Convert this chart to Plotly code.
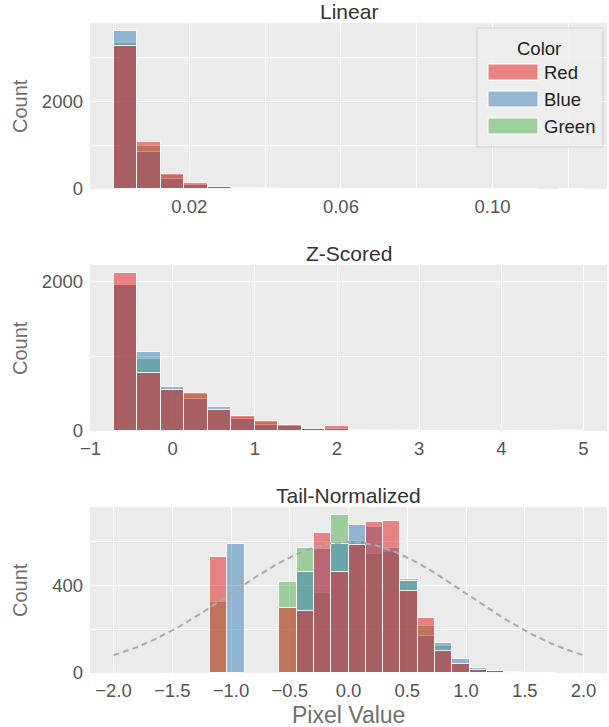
import numpy as np
import plotly.graph_objects as go

# ---------------- data ----------------
CHANNELS = ["Red", "Blue", "Green"]
CHANNEL_RGB = {"Red": (228, 26, 28), "Blue": (55, 126, 184), "Green": (77, 175, 74)}

# Linear panel: 20 bins starting at 0, width 0.0062
LIN_BIN_START = 0.0
LIN_BIN_WIDTH = 0.0062
LIN_RED = [3270, 1064, 345, 131, 55, 20, 12, 8, 6, 5, 4, 3, 2, 2, 1, 1, 1, 1, 0, 1]
LIN_BLUE = [3616, 857, 230, 85, 40, 16, 10, 7, 5, 4, 3, 2, 2, 1, 1, 1, 0, 1, 0, 1]
LIN_GREEN = [3330, 995, 310, 120, 50, 18, 11, 7, 5, 4, 3, 2, 2, 1, 1, 1, 1, 0, 0, 1]

# Z-scored panel: 20 bins starting at -0.72, width 0.286
Z_BIN_START = -0.72
Z_BIN_WIDTH = 0.286
Z_RED = [2121, 782, 544, 512, 288, 202, 131, 81, 30, 65, 15, 12, 10, 4, 3, 2, 1, 2, 3, 20]
Z_BLUE = [1960, 1061, 593, 423, 324, 162, 85, 65, 28, 30, 18, 5, 4, 3, 2, 1, 1, 1, 2, 20]
Z_GREEN = [1965, 965, 555, 495, 300, 185, 120, 75, 30, 30, 15, 5, 4, 3, 2, 1, 1, 1, 2, 20]

# Tail-normalized panel: 20 bins starting at -1.18, width 0.1475
T_BIN_START = -1.18
T_BIN_WIDTH = 0.1475
T_RED = [529, 0, 0, 0, 297, 285, 643, 463, 586, 692, 697, 377, 251, 100, 39, 12, 10, 6, 2, 1]
T_BLUE = [0, 589, 0, 0, 0, 463, 566, 592, 678, 669, 574, 423, 171, 137, 63, 23, 8, 2, 1, 1]
T_GREEN = [325, 0, 0, 0, 415, 574, 366, 724, 605, 546, 556, 432, 216, 125, 42, 18, 8, 5, 2, 1]

# reference normal curve (mean 0, sd 1, scaled to counts)
NORMAL_X_MIN, NORMAL_X_MAX = -2.0, 2.0
NORMAL_PEAK = 600.0
NORMAL_SD = 1.0

PANELS = [
    dict(title="Linear", start=LIN_BIN_START, width=LIN_BIN_WIDTH,
         data={"Red": LIN_RED, "Blue": LIN_BLUE, "Green": LIN_GREEN},
         xticks=[0.02, 0.06, 0.10], xticktext=["0.02", "0.06", "0.10"],
         xminor=[0.0, 0.04, 0.08, 0.12],
         yticks=[0, 2000], yminor=[1000, 3000]),
    dict(title="Z-Scored", start=Z_BIN_START, width=Z_BIN_WIDTH,
         data={"Red": Z_RED, "Blue": Z_BLUE, "Green": Z_GREEN},
         xticks=[-1, 0, 1, 2, 3, 4, 5], xticktext=["\u22121", "0", "1", "2", "3", "4", "5"],
         xminor=[],
         yticks=[0, 2000], yminor=[1000]),
    dict(title="Tail-Normalized", start=T_BIN_START, width=T_BIN_WIDTH,
         data={"Red": T_RED, "Blue": T_BLUE, "Green": T_GREEN},
         xticks=[-2.0, -1.5, -1.0, -0.5, 0.0, 0.5, 1.0, 1.5, 2.0],
         xticktext=["\u22122.0", "\u22121.5", "\u22121.0", "\u22120.5", "0.0", "0.5", "1.0", "1.5", "2.0"],
         xminor=[],
         yticks=[0, 400], yminor=[200, 600]),
]

# ---------------- figure ----------------
W, H = 609, 727
M_L, M_R, M_T, M_B = 90, 2, 23, 54
FONT = "Liberation Sans, Arial, Helvetica, sans-serif"
AX_BG = "#EBEBEB"
TICK_COLOR = "#555555"
ALPHA = 0.5

plot_h = H - M_T - M_B
# panel pixel extents (top, bottom) measured from figure top
PANEL_PX = [(23, 189), (265, 431), (507, 673)]
domains = [[(H - M_B - b) / plot_h, (H - M_B - t) / plot_h] for t, b in PANEL_PX]


def rgba(c, a):
    r, g, b = CHANNEL_RGB[c]
    return f"rgba({r},{g},{b},{a})"


fig = go.Figure()
layout = dict(
    width=W, height=H,
    margin=dict(l=M_L, r=M_R, t=M_T, b=M_B),
    paper_bgcolor="white", plot_bgcolor=AX_BG,
    barmode="overlay", bargap=0, showlegend=False,
    font=dict(family=FONT, size=18, color=TICK_COLOR),
)

annotations = []
shapes = []

for i, p in enumerate(PANELS):
    n = i + 1
    xa = "x" if n == 1 else f"x{n}"
    ya = "y" if n == 1 else f"y{n}"
    nbins = len(p["data"]["Red"])
    centers = [p["start"] + (k + 0.5) * p["width"] for k in range(nbins)]
    lo = p["start"]
    hi = p["start"] + nbins * p["width"]
    ymax = 0
    # draw green, then blue, then red on top
    for c in reversed(CHANNELS):
        vals = p["data"][c]
        ymax = max(ymax, max(vals))
        fig.add_trace(go.Bar(
            x=centers, y=[v if v > 0 else None for v in vals], width=p["width"],
            name=c, xaxis=xa, yaxis=ya,
            marker=dict(color=rgba(c, ALPHA), line=dict(color="rgba(255,255,255,0.85)", width=1)),
        ))
    if n == 3:
        xs = np.linspace(NORMAL_X_MIN, NORMAL_X_MAX, 200)
        ys = NORMAL_PEAK * np.exp(-0.5 * (xs / NORMAL_SD) ** 2)
        fig.add_trace(go.Scatter(x=xs, y=ys, mode="lines", xaxis=xa, yaxis=ya,
                                 line=dict(color="#AAAAAA", width=2, dash="6px,4px"),
                                 hoverinfo="skip"))
        lo, hi = NORMAL_X_MIN, NORMAL_X_MAX
    pad = 0.05 * (hi - lo)
    axis_common = dict(showgrid=True, gridcolor="white", gridwidth=1.3, zeroline=False,
                       ticks="", showline=False,
                       tickfont=dict(family=FONT, size=18.5, color=TICK_COLOR))
    layout["xaxis" if n == 1 else f"xaxis{n}"] = dict(
        axis_common, domain=[0, 1], anchor=ya, range=[lo - pad, hi + pad],
        tickmode="array", tickvals=p["xticks"], ticktext=p["xticktext"],
        ticklabelstandoff=4,
        minor=dict(tickvals=p["xminor"], showgrid=True, gridcolor="white", gridwidth=1, ticks=""),
    )
    layout["yaxis" if n == 1 else f"yaxis{n}"] = dict(
        axis_common, domain=domains[i], anchor=xa, range=[0, ymax * 1.05],
        tickmode="array", tickvals=p["yticks"], ticktext=[str(v) for v in p["yticks"]],
        ticklabelstandoff=6,
        minor=dict(tickvals=p["yminor"], showgrid=True, gridcolor="white", gridwidth=1, ticks=""),
    )
    # panel title
    annotations.append(dict(text=p["title"], xref=f"{xa} domain", yref=f"{ya} domain",
                            x=0.5, y=1, xanchor="center", yanchor="bottom", yshift=-1,
                            borderpad=0,
                            showarrow=False, font=dict(family=FONT, size=21, color="#333333")))
    # y label
    annotations.append(dict(text="Count", xref=f"{xa} domain", yref=f"{ya} domain",
                            x=0, y=0.5, xanchor="center", yanchor="middle", xshift=-70,
                            textangle=-90, showarrow=False,
                            font=dict(family=FONT, size=20, color="#707070")))

annotations.append(dict(text="Pixel Value", xref="x3 domain", yref="y3 domain",
                        x=0.5, y=0, xanchor="center", yanchor="top", yshift=-27,
                        showarrow=False, font=dict(family=FONT, size=23, color="#707070")))

# legend (drawn in top axes domain coordinates)
def dx(px):
    return (px - M_L) / (W - M_L - M_R)


def dy(py):
    t, b = PANEL_PX[0]
    return (b - py) / (b - t)


shapes.append(dict(type="rect", xref="x domain", yref="y domain",
                   x0=dx(477), x1=dx(603), y0=dy(147), y1=dy(28),
                   fillcolor="rgba(238,238,238,0.85)", line=dict(color="#D0D0D0", width=1)))
annotations.append(dict(text="Color", xref="x domain", yref="y domain",
                        x=dx(539), y=dy(48), xanchor="center", yanchor="middle",
                        showarrow=False, font=dict(family=FONT, size=18.5, color="#222222")))
for j, (c, ytop) in enumerate(zip(CHANNELS, [64, 91, 118])):
    shapes.append(dict(type="rect", xref="x domain", yref="y domain",
                       x0=dx(488), x1=dx(538), y0=dy(ytop + 16), y1=dy(ytop),
                       fillcolor=rgba(c, ALPHA), line=dict(color="white", width=1)))
    annotations.append(dict(text=c, xref="x domain", yref="y domain",
                            x=dx(542), y=dy(ytop + 8), xanchor="left", yanchor="middle",
                            showarrow=False, font=dict(family=FONT, size=18.5, color="#222222")))

layout["annotations"] = annotations
layout["shapes"] = shapes
fig.update_layout(**layout)
fig.write_html("out.html", config={"displayModeBar": False},
               post_script="document.body.style.margin='0';document.body.style.overflow='hidden';")
